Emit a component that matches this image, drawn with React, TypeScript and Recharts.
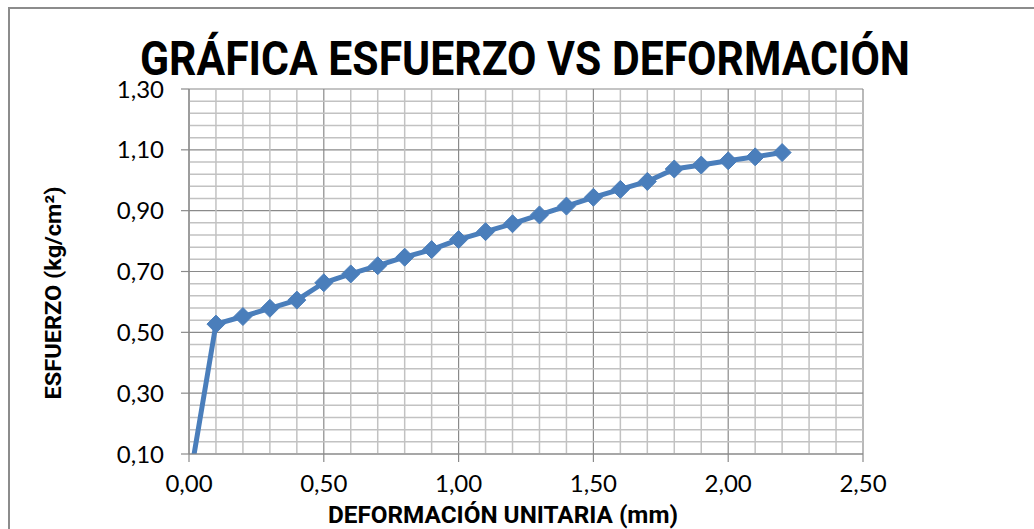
import React from 'react';
import { LineChart, Line, XAxis, YAxis, CartesianGrid, ReferenceLine } from 'recharts';

// deformación unitaria (mm)
const deformacion = [0, 0.1, 0.2, 0.3, 0.4, 0.5, 0.6, 0.7, 0.8, 0.9, 1.0, 1.1, 1.2, 1.3, 1.4, 1.5, 1.6, 1.7, 1.8, 1.9, 2.0, 2.1, 2.2];
// esfuerzo (kg/cm²)
const esfuerzo = [0, 0.527, 0.552, 0.579, 0.606, 0.663, 0.692, 0.719, 0.747, 0.772, 0.805, 0.831, 0.857, 0.886, 0.915, 0.944, 0.97, 0.996, 1.037, 1.05, 1.064, 1.077, 1.091];

const xTicks = [0, 0.5, 1, 1.5, 2, 2.5];
const yTicks = [0.1, 0.3, 0.5, 0.7, 0.9, 1.1, 1.3];
const xMinor = [0.1, 0.2, 0.3, 0.4, 0.6, 0.7, 0.8, 0.9, 1.1, 1.2, 1.3, 1.4, 1.6, 1.7, 1.8, 1.9, 2.1, 2.2, 2.3, 2.4];
const yMinor = [0.14, 0.18, 0.22, 0.26, 0.34, 0.38, 0.42, 0.46, 0.54, 0.58, 0.62, 0.66, 0.74, 0.78, 0.82, 0.86, 0.94, 0.98, 1.02, 1.06, 1.14, 1.18, 1.22, 1.26];

const data = deformacion.map((x, i) => ({ x, y: esfuerzo[i] }));

const BLUE = '#4A7EBB';
const MAJOR = '#8A8A8A';
const MINOR = '#C2C2C2';
const FONT = 'Lato, "Open Sans", sans-serif';

const fmt = (v: number) => v.toFixed(2).replace('.', ',');

const Diamond = (props: any) => {
  const { cx, cy } = props;
  if (cx == null || cy == null) return null;
  const s = 9;
  return (
    <polygon
      points={`${cx},${cy - s} ${cx + s},${cy} ${cx},${cy + s} ${cx - s},${cy}`}
      fill={BLUE}
      stroke={BLUE}
      strokeWidth={1}
    />
  );
};

const App: React.FC = () => {
  return (
    <div style={{ position: 'absolute', left: 0, top: 0, width: 1034, height: 529, background: '#fff', overflow: 'hidden' }}>
      <div
        style={{
          position: 'absolute',
          left: 8,
          top: 7,
          width: 1040,
          height: 540,
          borderTop: '2px solid #8C8C8C',
          borderLeft: '2px solid #8C8C8C',
        }}
      />
      <LineChart
        width={1034}
        height={529}
        data={data}
        margin={{ top: 89, right: 171, left: 109, bottom: 25 }}
        style={{ position: 'absolute', left: 0, top: 0 }}
      >
        {xMinor.map((v) => (
          <ReferenceLine key={'vx' + v} x={v} stroke={MINOR} strokeWidth={1.5} />
        ))}
        {yMinor.map((v) => (
          <ReferenceLine key={'hy' + v} y={v} stroke={MINOR} strokeWidth={1.5} />
        ))}
        <CartesianGrid stroke={MAJOR} strokeWidth={1.2} />
        <XAxis
          type="number"
          dataKey="x"
          domain={[0, 2.5]}
          ticks={xTicks}
          interval={0}
          height={50}
          tickSize={8}
          tickMargin={13}
          tickFormatter={fmt}
          axisLine={{ stroke: MAJOR, strokeWidth: 1.2 }}
          tickLine={{ stroke: MAJOR, strokeWidth: 1.2 }}
          tick={{ fill: '#000', fontSize: 24, fontFamily: FONT }}
        />
        <YAxis
          type="number"
          domain={[0.1, 1.3]}
          ticks={yTicks}
          interval={0}
          allowDataOverflow
          width={80}
          tickSize={8}
          tickMargin={17}
          tickFormatter={fmt}
          axisLine={{ stroke: MAJOR, strokeWidth: 1.2 }}
          tickLine={{ stroke: MAJOR, strokeWidth: 1.2 }}
          tick={{ fill: '#000', fontSize: 24, fontFamily: FONT }}
        />
        <Line
          type="linear"
          dataKey="y"
          stroke={BLUE}
          strokeWidth={5}
          strokeLinejoin="round"
          dot={<Diamond />}
          activeDot={false}
          isAnimationActive={false}
        />
      </LineChart>
      <svg width={1034} height={529} style={{ position: 'absolute', left: 0, top: 0, pointerEvents: 'none' }}>
        <text
          x={525}
          y={75}
          textAnchor="middle"
          fontFamily='Roboto, "Open Sans", sans-serif'
          fontWeight={700}
          fontSize={48}
          textLength={770}
          lengthAdjust="spacingAndGlyphs"
          fill="#000"
        >
          GRÁFICA ESFUERZO VS DEFORMACIÓN
        </text>
        <text
          x={503}
          y={523}
          textAnchor="middle"
          fontFamily='Roboto, "Open Sans", sans-serif'
          fontWeight={700}
          fontSize={23}
          textLength={350}
          lengthAdjust="spacingAndGlyphs"
          fill="#000"
        >
          DEFORMACIÓN UNITARIA (mm)
        </text>
        <text
          transform="translate(61,293) rotate(-90)"
          x={0}
          y={0}
          textAnchor="middle"
          fontFamily='Roboto, "Open Sans", sans-serif'
          fontWeight={700}
          fontSize={22}
          textLength={213}
          lengthAdjust="spacingAndGlyphs"
          fill="#000"
        >
          ESFUERZO (kg/cm²)
        </text>
      </svg>
    </div>
  );
};

export default App;
